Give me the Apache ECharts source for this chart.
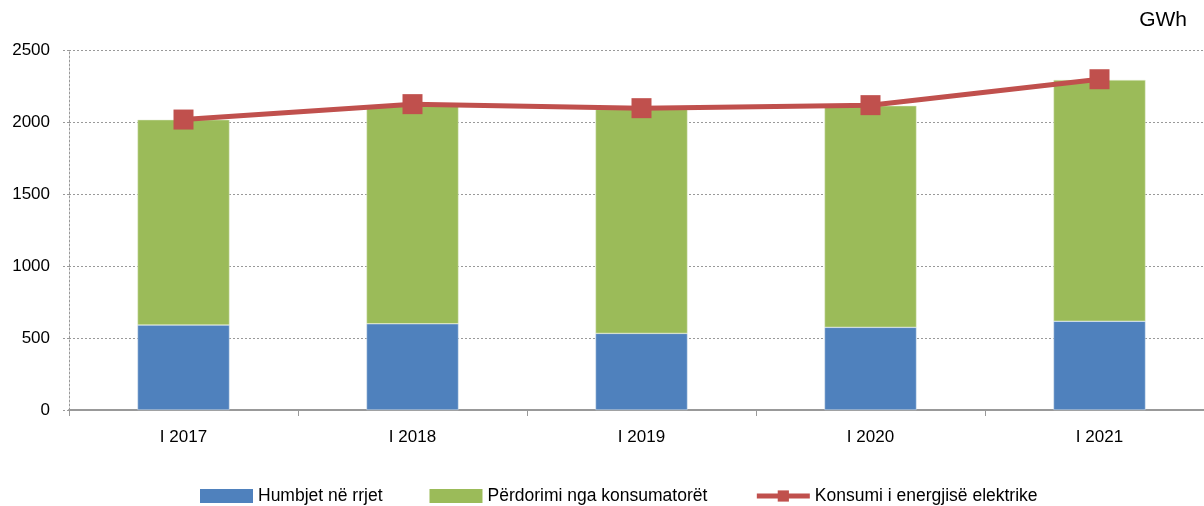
<!DOCTYPE html>
<html>
<head>
<meta charset="utf-8">
<script src="https://cdn.jsdelivr.net/npm/echarts@6/dist/echarts.min.js"></script>
<style>
  html, body { margin: 0; padding: 0; background: #fff; }
  #chart { width: 1204px; height: 506px; }
</style>
</head>
<body>
<div id="chart"></div>
<script>
// kategoritë (tremujori I)
const categories = ['I 2017', 'I 2018', 'I 2019', 'I 2020', 'I 2021'];
// humbjet në rrjet
const losses = [590, 599, 532, 574, 616];
// përdorimi nga konsumatorët
const usage = [1426, 1511, 1556, 1539, 1676];
// konsumi i energjisë elektrike
const consumption = [2017, 2124, 2096, 2117, 2297];
const yTicks = [0, 500, 1000, 1500, 2000, 2500];

const font = 'Liberation Sans, Arial, sans-serif';
const chart = echarts.init(document.getElementById('chart'));

chart.setOption({
  animation: false,
  textStyle: { fontFamily: font },
  // plot area runs a bit past the right edge, like the original
  grid: { left: 69, width: 1145, top: 50, bottom: 96, outerBoundsMode: 'none' },
  graphic: [{
    type: 'text',
    right: 17,
    top: 10,
    style: { text: 'GWh', font: '21px ' + font, fill: '#000' }
  }],
  legend: {
    left: 195,
    top: 482,
    itemWidth: 53,
    itemHeight: 14,
    itemGap: 47,
    textStyle: { fontSize: 17.5, color: '#000', fontFamily: font },
    itemStyle: { borderWidth: 0 },
    data: [
      { name: 'Humbjet në rrjet', icon: 'rect' },
      { name: 'Përdorimi nga konsumatorët', icon: 'rect' },
      { name: 'Konsumi i energjisë elektrike', lineStyle: { width: 5 } }
    ]
  },
  xAxis: {
    type: 'category',
    data: categories,
    axisLine: { lineStyle: { color: '#999', width: 2 } },
    axisTick: { show: true, length: 6, lineStyle: { color: '#999', width: 1 } },
    axisLabel: { color: '#000', fontSize: 17, margin: 19 }
  },
  yAxis: {
    type: 'value',
    min: yTicks[0],
    max: yTicks[yTicks.length - 1],
    interval: 500,
    axisLine: { show: true, lineStyle: { color: '#999', type: [2, 2], width: 1 } },
    axisTick: { show: true, length: 6, lineStyle: { color: '#999', type: [2, 2] } },
    axisLabel: { color: '#000', fontSize: 17, margin: 19, formatter: v => String(v) },
    splitLine: { lineStyle: { color: '#999', type: [2, 2], width: 1 } }
  },
  series: [
    {
      name: 'Humbjet në rrjet',
      type: 'bar',
      stack: 'total',
      barWidth: 92,
      data: losses,
      itemStyle: { color: '#4F81BD', borderColor: '#dfe8f3', borderWidth: 0.5 }
    },
    {
      name: 'Përdorimi nga konsumatorët',
      type: 'bar',
      stack: 'total',
      barWidth: 92,
      data: usage,
      itemStyle: { color: '#9BBB59', borderColor: '#e6eed6', borderWidth: 0.5 }
    },
    {
      name: 'Konsumi i energjisë elektrike',
      type: 'line',
      data: consumption,
      symbol: 'rect',
      symbolSize: 20,
      lineStyle: { color: '#C0504D', width: 5 },
      itemStyle: { color: '#C0504D' },
      z: 5
    }
  ]
});
</script>
</body>
</html>
